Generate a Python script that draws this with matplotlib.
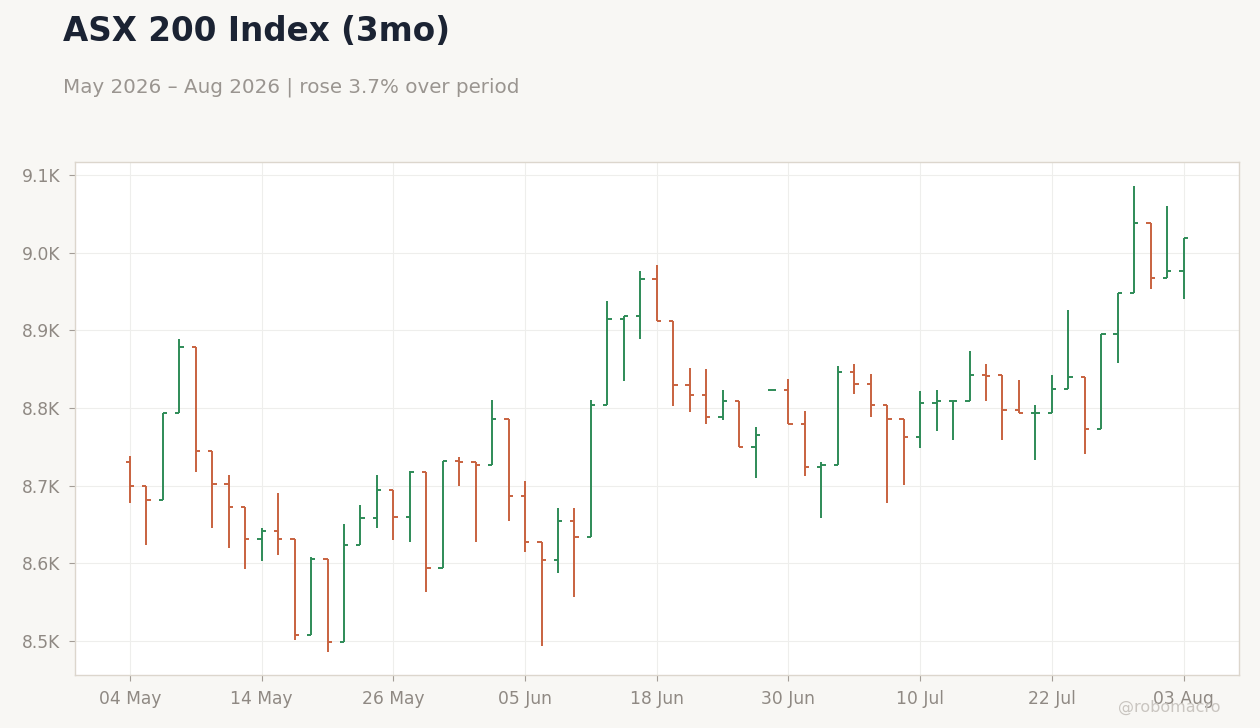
import numpy as np
import pandas as pd
import matplotlib
matplotlib.use('Agg')
import matplotlib.pyplot as plt
from matplotlib.ticker import FuncFormatter

# ASX 200 daily OHLC, May-Aug 2026
opens = [8731, 8700, 8681, 8794, 8879, 8745, 8702, 8672, 8631, 8642,
         8631, 8507, 8606, 8498, 8623, 8658, 8694, 8659, 8718, 8594,
         8732, 8731, 8726, 8786, 8687, 8627, 8604, 8655, 8634, 8804,
         8915, 8919, 8966, 8912, 8830, 8817, 8788, 8809, 8750, 8823,
         8823, 8779, 8724, 8726, 8846, 8831, 8804, 8786, 8763, 8807,
         8809, 8809, 8842, 8842, 8798, 8793, 8794, 8824, 8840, 8773,
         8895, 8948, 9038, 8968, 8977]
highs = [8738, 8700, 8794, 8889, 8879, 8745, 8714, 8672, 8645, 8691,
         8631, 8608, 8606, 8651, 8675, 8714, 8694, 8719, 8718, 8732,
         8737, 8731, 8810, 8786, 8706, 8627, 8671, 8671, 8810, 8938,
         8919, 8976, 8984, 8912, 8852, 8850, 8823, 8809, 8775, 8823,
         8837, 8796, 8730, 8854, 8857, 8844, 8804, 8786, 8822, 8823,
         8809, 8873, 8857, 8842, 8836, 8804, 8843, 8926, 8840, 8895,
         8948, 9086, 9038, 9060, 9019]
lows = [8677, 8623, 8681, 8794, 8718, 8645, 8620, 8592, 8603, 8611,
        8501, 8507, 8486, 8498, 8623, 8646, 8630, 8627, 8563, 8594,
        8699, 8627, 8726, 8654, 8615, 8493, 8587, 8557, 8634, 8804,
        8835, 8889, 8912, 8803, 8795, 8779, 8785, 8750, 8710, 8823,
        8779, 8713, 8658, 8726, 8818, 8788, 8678, 8701, 8749, 8771,
        8759, 8809, 8809, 8759, 8793, 8733, 8794, 8824, 8741, 8773,
        8858, 8948, 8953, 8968, 8941]
closes = [8699, 8681, 8794, 8879, 8745, 8702, 8672, 8631, 8642, 8631,
          8507, 8606, 8498, 8623, 8658, 8694, 8659, 8718, 8594, 8732,
          8731, 8726, 8786, 8687, 8627, 8604, 8655, 8634, 8804, 8915,
          8919, 8966, 8912, 8830, 8817, 8788, 8809, 8750, 8765, 8823,
          8779, 8724, 8726, 8846, 8831, 8804, 8786, 8763, 8807, 8809,
          8809, 8842, 8841, 8798, 8793, 8794, 8824, 8840, 8773, 8895,
          8948, 9038, 8968, 8977, 9019]

# trading days, ASX closed for King's Birthday
dates = pd.bdate_range('2026-05-04', periods=len(opens), freq='C',
                       holidays=['2026-06-08'])

UP = '#2e8b57'
DOWN = '#c8623f'
BG = '#f8f7f4'
GREY = '#8f8983'

o = np.array(opens)
h = np.array(highs)
l = np.array(lows)
c = np.array(closes)
x = np.arange(len(o))
colors = [UP if cc >= oo else DOWN for oo, cc in zip(o, c)]

fig = plt.figure(figsize=(12.6, 7.28), dpi=100, facecolor=BG)
ax = fig.add_axes([0.0595, 0.0728, 0.9235, 0.7047])
ax.set_facecolor('white')

tw = 0.26
ax.vlines(x, l, h, colors=colors, linewidth=1.4)
ax.hlines(o, x - tw, x, colors=colors, linewidth=1.4)
ax.hlines(c, x, x + tw, colors=colors, linewidth=1.4)

ax.set_xlim(-3.34, 67.34)
ax.set_ylim(8456, 9117)

tick_idx = x[::8]
ax.set_xticks(tick_idx)
ax.set_xticklabels([dates[i].strftime('%d %b') for i in tick_idx])
ax.set_yticks([8500, 8600, 8700, 8800, 8900, 9000, 9100])
ax.yaxis.set_major_formatter(FuncFormatter(lambda v, p: f'{v/1000:.1f}K'))

ax.grid(True, color='#eeeeec', linewidth=0.8)
ax.set_axisbelow(True)
for s in ax.spines.values():
    s.set_color('#dcd6cd')
    s.set_linewidth(1.0)
ax.tick_params(colors='#a39d97', labelcolor=GREY, labelsize=12.3,
               length=4.5, width=0.8, pad=6)

fig.text(0.05, 0.9441, 'ASX 200 Index (3mo)', fontsize=23.5, fontweight='bold',
         color='#1b2333', va='baseline')
pct = (c[-1] / c[0] - 1) * 100
fig.text(0.05, 0.8732,
         f"{dates[0].strftime('%b %Y')} – {dates[-1].strftime('%b %Y')} | rose {pct:.1f}% over period",
         fontsize=14.3, color='#9a9590', va='baseline')
fig.text(0.969, 0.022, '@robomacro', fontsize=11.5, color='#c9c5c0',
         ha='right', va='baseline')

fig.savefig('out.png', dpi=100, facecolor=BG)
